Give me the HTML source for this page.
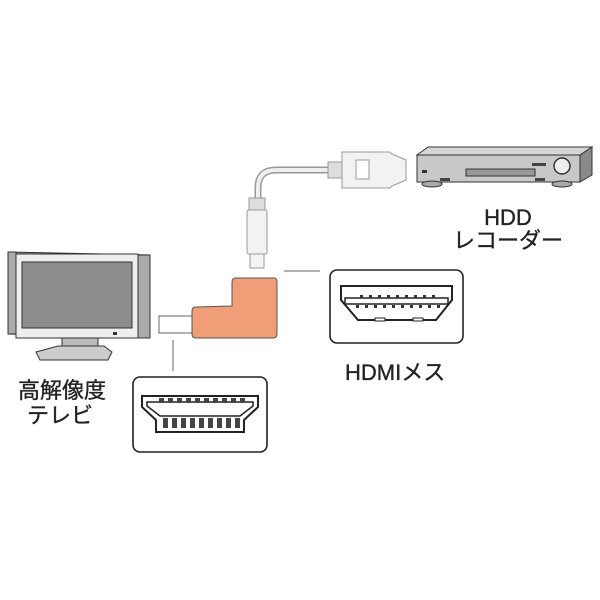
<!DOCTYPE html>
<html><head><meta charset="utf-8"><style>
html,body{margin:0;padding:0;background:#fff;}
svg{display:block}
text{font-family:"Liberation Sans","Noto Sans CJK JP",sans-serif;fill:#222;stroke:#222;stroke-width:0.35}
</style></head><body>
<svg width="600" height="600" viewBox="0 0 600 600" xmlns="http://www.w3.org/2000/svg">
<path d="M258 205 L258 188 Q258 170 276 170 L335 170" fill="none" stroke="#999" stroke-width="7"/>
<path d="M258 205 L258 188 Q258 170 276 170 L335 170" fill="none" stroke="#eee" stroke-width="4"/>
<rect x="249" y="198" width="16" height="12" fill="#ddd" stroke="#999"/>
<rect x="247" y="210" width="20" height="44" rx="2" fill="#f2f2f2" stroke="#999"/>
<rect x="250" y="254" width="14" height="14" fill="#f5f5f5" stroke="#999"/>
<rect x="328" y="162" width="14" height="16" fill="#ddd" stroke="#999"/>
<path d="M342 152 L390 152 L392 154 L406 160 L406 180 L392 186 L390 188 L342 188 Z" fill="#f2f2f2" stroke="#999"/>
<rect x="356" y="160" width="13" height="19" fill="#fff" stroke="#999"/>
<path d="M417 155 L428 147 L592 147 L580 155 Z" fill="#d6d6d6" stroke="#333"/>
<path d="M580 155 L592 147 L592 175 L580 182 Z" fill="#8a8a8a" stroke="#333"/>
<rect x="417" y="155" width="163" height="27" fill="#c8c8c8" stroke="#333"/>
<ellipse cx="432" cy="184" rx="10" ry="3" fill="#aaa" stroke="#333"/>
<ellipse cx="562" cy="184" rx="10" ry="3" fill="#aaa" stroke="#333"/>
<rect x="466" y="169" width="69" height="7" fill="#999" stroke="#333"/>
<circle cx="562" cy="166" r="8" fill="#eee" stroke="#333" stroke-width="1.5"/>
<rect x="422" y="170" width="5" height="3" fill="#333"/>
<rect x="440" y="178" width="10" height="3" fill="#444"/>
<rect x="535" y="178" width="10" height="3" fill="#444"/>
<rect x="532" y="163" width="14" height="3" fill="#444"/>
<path d="M8 252 L150 255 L150 338 L8 334 Z" fill="#999" stroke="#333"/>
<rect x="16" y="254" width="122" height="84" fill="#eee" stroke="#333"/>
<rect x="22" y="262" width="110" height="66" fill="#8c8c8c" stroke="#333"/>
<rect x="8" y="252" width="8" height="82" fill="#aaa" stroke="#333"/>
<rect x="138" y="255" width="12" height="83" fill="#aaa" stroke="#333"/>
<rect x="113" y="332" width="4" height="3" fill="#333"/>
<rect x="62" y="338" width="36" height="12" fill="#bbb" stroke="#333"/>
<path d="M36 352 L58 346 L104 346 L112 352 L108 360 L40 360 Z" fill="#ccc" stroke="#333"/>
<text x="18" y="398" font-size="22">高解像度</text>
<text x="27" y="423" font-size="22">テレビ</text>
<rect x="159" y="316" width="34" height="17" fill="#fff" stroke="#666"/>
<path d="M236 278 L274 278 Q277 278 277 282 L277 334 Q277 338 273 338 L196 338 Q192 338 192 334 L192 311 Q192 307 196 307 L232 306 L232 282 Q232 278 236 278 Z" fill="#ef9e78" stroke="#555"/>
<line x1="173" y1="340" x2="173" y2="371" stroke="#999" stroke-width="1.5"/>
<line x1="284" y1="271" x2="320" y2="271" stroke="#999" stroke-width="1.5"/>
<rect x="133" y="377" width="134" height="75" rx="7" fill="#fff" stroke="#222" stroke-width="1.6"/>
<path d="M142 399 L142 396 L258 396 L258 407 L244 420 L244 432 L156 432 L156 420 L142 407 Z" fill="#fff" stroke="#222" stroke-width="2"/>
<path d="M147 402 L253 402 L253 406 L240 416 L160 416 L147 406 Z" fill="#fff" stroke="#222" stroke-width="1.5"/>
<g fill="#444">
<rect x="159" y="398" width="5" height="5"/><rect x="168" y="398" width="5" height="5"/><rect x="177" y="398" width="5" height="5"/><rect x="186" y="398" width="5" height="5"/><rect x="195" y="398" width="5" height="5"/><rect x="204" y="398" width="5" height="5"/><rect x="213" y="398" width="5" height="5"/><rect x="222" y="398" width="5" height="5"/><rect x="231" y="398" width="5" height="5"/><rect x="240" y="398" width="5" height="5"/>
<rect x="163" y="418" width="5" height="10"/><rect x="172" y="418" width="5" height="10"/><rect x="181" y="418" width="5" height="10"/><rect x="190" y="418" width="5" height="10"/><rect x="199" y="418" width="5" height="10"/><rect x="208" y="418" width="5" height="10"/><rect x="217" y="418" width="5" height="10"/><rect x="226" y="418" width="5" height="10"/><rect x="235" y="418" width="5" height="10"/>
</g>
<rect x="330" y="270" width="133" height="73" rx="7" fill="#fff" stroke="#222" stroke-width="1.6"/>
<path d="M341 289 L341 286 L452 286 L452 300 L436 320 L358 320 L341 300 Z" fill="#fff" stroke="#222" stroke-width="2"/>
<path d="M345 304 L448 304 L448 298 L345 298 Z" fill="#fff" stroke="#222" stroke-width="1.5"/>
<g fill="#333">
<rect x="356" y="305" width="3" height="3"/><rect x="365" y="305" width="3" height="3"/><rect x="374" y="305" width="3" height="3"/><rect x="383" y="305" width="3" height="3"/><rect x="392" y="305" width="3" height="3"/><rect x="401" y="305" width="3" height="3"/><rect x="410" y="305" width="3" height="3"/><rect x="419" y="305" width="3" height="3"/><rect x="428" y="305" width="3" height="3"/><rect x="437" y="305" width="3" height="3"/>
<rect x="360" y="295" width="3" height="3"/><rect x="369" y="295" width="3" height="3"/><rect x="378" y="295" width="3" height="3"/><rect x="387" y="295" width="3" height="3"/><rect x="396" y="295" width="3" height="3"/><rect x="405" y="295" width="3" height="3"/><rect x="414" y="295" width="3" height="3"/><rect x="423" y="295" width="3" height="3"/><rect x="432" y="295" width="3" height="3"/>
</g>
<rect x="375" y="318" width="10" height="3" fill="#fff" stroke="#222"/>
<rect x="413" y="318" width="10" height="3" fill="#fff" stroke="#222"/>
<text x="508" y="225" font-size="22" text-anchor="middle">HDD</text>
<text x="508" y="248" font-size="22" text-anchor="middle">レコーダー</text>
<text x="345" y="380" font-size="22">HDMIメス</text>
</svg>
</body></html>
